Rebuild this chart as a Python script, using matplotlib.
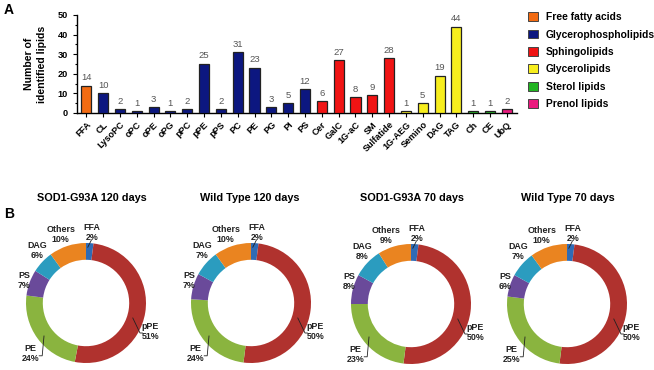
import matplotlib
matplotlib.use("Agg")
import matplotlib.pyplot as plt
from matplotlib.patches import Patch

plt.rcParams['font.family'] = ['Liberation Sans', 'DejaVu Sans']

# ---- Panel A data ----
categories = ["FFA", "CL", "LysoPC", "oPC", "oPE", "oPG", "pPC", "pPE", "pPS", "PC",
              "PE", "PG", "PI", "PS", "Cer", "GalC", "1G-aC", "SM", "Sulfatide",
              "1G-AEG", "Semino", "DAG", "TAG", "Ch", "CE", "UbQ"]
counts = [14, 10, 2, 1, 3, 1, 2, 25, 2, 31, 23, 3, 5, 12, 6, 27, 8, 9, 28,
          1, 5, 19, 44, 1, 1, 2]
classes = ["Free fatty acids"] + ["Glycerophospholipids"] * 13 + ["Sphingolipids"] * 5 + \
          ["Glycerolipids"] * 4 + ["Sterol lipids"] * 2 + ["Prenol lipids"]
class_names = ["Free fatty acids", "Glycerophospholipids", "Sphingolipids",
               "Glycerolipids", "Sterol lipids", "Prenol lipids"]
class_colors = ["#f26b12", "#0c1780", "#f01414", "#f7ee1e", "#22b422", "#ea1a7e"]

# ---- Panel B data ----
pie_titles = ["SOD1-G93A 120 days", "Wild Type 120 days", "SOD1-G93A 70 days", "Wild Type 70 days"]
pie_labels = ["FFA", "pPE", "PE", "PS", "DAG", "Others"]
pie_values = [
    [2, 51, 24, 7, 6, 10],
    [2, 50, 24, 7, 7, 10],
    [2, 50, 23, 8, 8, 9],
    [2, 50, 25, 6, 7, 10],
]
pie_colors = ["#2f6bb5", "#b0322e", "#8ab43f", "#6a4a9a", "#2b9cbf", "#ea8420"]

W, H = 654, 370
fig = plt.figure(figsize=(W / 100, H / 100), dpi=100)

# ---- Bar chart ----
ax = fig.add_axes([77 / W, 1 - 113 / H, 440 / W, 98 / H])
cmap = dict(zip(class_names, class_colors))
x = list(range(len(categories)))
ax.bar(x, counts, width=0.6, color=[cmap[c] for c in classes],
       edgecolor="#222222", linewidth=0.9, zorder=3)
for xi, v in zip(x, counts):
    ax.text(xi, v + 1.8, str(v), ha="center", va="bottom", fontsize=6.8, color="#555555")
ax.set_xlim(-0.55, len(categories) - 0.4)
ax.set_ylim(0, 50)
ax.set_yticks([0, 10, 20, 30, 40, 50])
ax.set_yticks([5, 15, 25, 35, 45], minor=True)
ax.set_xticks(x)
ax.set_xticklabels(categories, rotation=45, ha="right", rotation_mode="anchor",
                   fontsize=6.6, fontweight="bold")
ax.tick_params(axis="y", labelsize=6.6, width=0.8, length=3)
for t in ax.get_yticklabels():
    t.set_fontweight("bold")
ax.tick_params(axis="y", which="minor", length=1.5, width=0.8)
ax.tick_params(axis="x", width=0.8, length=3, pad=2)
for s in ["top", "right"]:
    ax.spines[s].set_visible(False)
for s in ["left", "bottom"]:
    ax.spines[s].set_linewidth(1.0)
ax.set_ylabel("Number of\nidentified lipids", fontsize=7.6, fontweight="bold", labelpad=8,
              linespacing=1.35)

handles = [Patch(facecolor=c, edgecolor="#444444", linewidth=0.7, label=n)
           for n, c in zip(class_names, class_colors)]
fig.legend(handles=handles, loc="upper left", bbox_to_anchor=(524 / W, 1 - 8 / H),
           frameon=False, prop={"size": 7.4, "weight": "bold"}, handlelength=1.0,
           handleheight=0.95, labelspacing=0.72, handletextpad=0.7, borderaxespad=0)

fig.text(4 / W, 1 - 10 / H, "A", fontsize=10, fontweight="bold", va="center")
fig.text(4 / W, 1 - 214 / H, "B", fontsize=10, fontweight="bold", va="center")

# ---- Pies ----
centers = [(86, 303), (251, 303), (411, 304), (567, 304)]
title_x = [92, 250, 412, 568]
R = 60.0
half = 90.0
# label positions relative to radius (x, y)
lab_pos = {
    "FFA": (0.10, 1.17),
    "Others": (-0.42, 1.14),
    "DAG": (-0.82, 0.87),
    "PS": (-1.03, 0.38),
    "PE": (-0.92, -0.84),
    "pPE": (1.07, -0.47),
}
for i in range(4):
    cx, cy = centers[i]
    pax = fig.add_axes([(cx - half) / W, 1 - (cy + half) / H, 2 * half / W, 2 * half / H])
    lim = half / R
    pax.pie(pie_values[i], colors=pie_colors, startangle=90, counterclock=False,
            radius=1.0, wedgeprops=dict(width=0.28, edgecolor="none"), frame=True)
    pax.set_xlim(-lim, lim)
    pax.set_ylim(-lim, lim)
    pax.axis("off")
    for lab, val in zip(pie_labels, pie_values[i]):
        px, py = lab_pos[lab]
        pax.text(px, py, f"{lab}\n{val}%", ha="center", va="center", fontsize=6.4,
                 fontweight="bold", linespacing=1.1, color="#222222")
    # leader lines
    pax.plot([0.03, 0.09], [0.93, 1.05], color="#222222", lw=0.6)
    pax.plot([0.78, 0.90, 0.94], [-0.25, -0.50, -0.50], color="#222222", lw=0.6)
    pax.plot([-0.70, -0.73, -0.78], [-0.55, -0.88, -0.88], color="#222222", lw=0.6)
    fig.text(title_x[i] / W, 1 - 198 / H, pie_titles[i], ha="center", va="center",
             fontsize=7.8, fontweight="bold")

fig.savefig("out.png", dpi=100)
